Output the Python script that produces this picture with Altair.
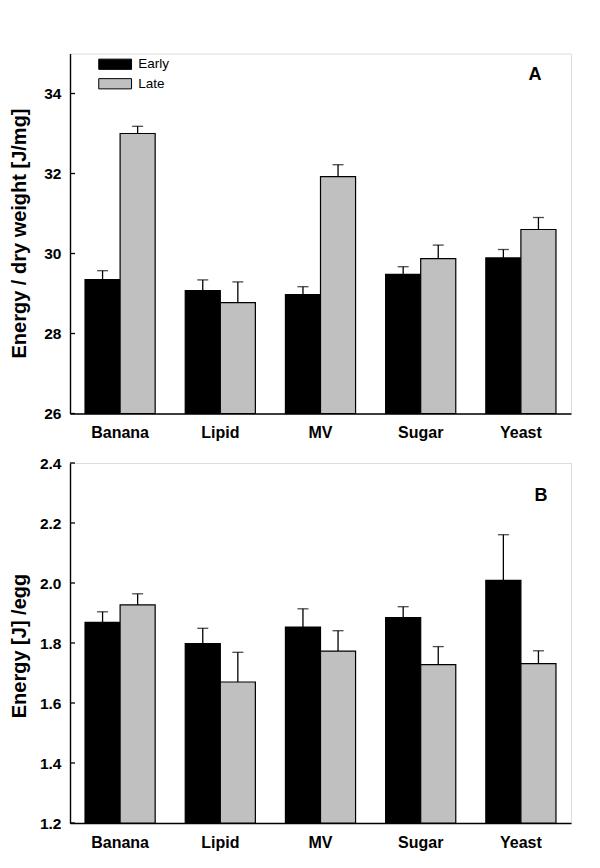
import altair as alt
import pandas as pd

categories = ["Banana", "Lipid", "MV", "Sugar", "Yeast"]
groups = ["Early", "Late"]

a_early = [29.35, 29.07, 28.97, 29.48, 29.89]
a_early_err = [0.22, 0.27, 0.20, 0.19, 0.21]
a_late = [33.00, 28.77, 31.92, 29.87, 30.60]
a_late_err = [0.18, 0.52, 0.30, 0.34, 0.30]

b_early = [1.869, 1.798, 1.853, 1.885, 2.009]
b_early_err = [0.035, 0.051, 0.061, 0.036, 0.152]
b_late = [1.927, 1.670, 1.773, 1.728, 1.731]
b_late_err = [0.037, 0.099, 0.068, 0.060, 0.043]

a_ticks = [26, 28, 30, 32, 34]
b_ticks = [1.2, 1.4, 1.6, 1.8, 2.0, 2.2, 2.4]

FONT = "Liberation Sans"
W, H = 501, 360


def frame(early, eerr, late, lerr):
    rows = []
    for i, c in enumerate(categories):
        rows.append({"cat": c, "grp": "Early", "val": early[i], "hi": early[i] + eerr[i]})
        rows.append({"cat": c, "grp": "Late", "val": late[i], "hi": late[i] + lerr[i]})
    return pd.DataFrame(rows)


def panel(df, domain, ticks, fmt, ytitle, ty, letter, lx, ly, show_legend):
    yscale = alt.Scale(domain=domain, zero=False, nice=False)
    xenc = alt.X("cat:N", sort=categories, title=None,
                 scale=alt.Scale(paddingInner=0.3, paddingOuter=0.15),
                 axis=alt.Axis(labelAngle=0, labelFont=FONT, labelFontSize=16,
                               labelFontWeight="bold", labelColor="black",
                               labelPadding=11, ticks=False, domainColor="black",
                               domainWidth=1.4))
    xoff = alt.XOffset("grp:N", sort=groups,
                       scale=alt.Scale(paddingInner=0, paddingOuter=0))
    if show_legend:
        leg = alt.Legend(title=None, orient="none", legendX=38.4, legendY=4,
                         symbolType="M-3.2,-1H3.2V1H-3.2Z", symbolSize=105,
                         symbolStrokeColor="black", symbolStrokeWidth=1,
                         labelFont=FONT, labelFontSize=13.5, labelColor="black",
                         labelOffset=16.3, rowPadding=4.5, padding=0)
    else:
        leg = None
    base = alt.Chart(df)
    bars = base.mark_bar(stroke="black", strokeWidth=1.2).encode(
        x=xenc, xOffset=xoff,
        y=alt.Y("val:Q", scale=yscale, title=None,
                axis=alt.Axis(values=ticks, format=fmt, ticks=False, grid=False,
                              labelFont=FONT, labelFontSize=15.5, labelFontWeight="bold",
                              labelColor="black", labelPadding=9,
                              domainColor="black", domainWidth=1.4)),
        y2=alt.datum(domain[0]),
        color=alt.Color("grp:N", sort=groups,
                        scale=alt.Scale(domain=groups, range=["black", "#c0c0c0"]),
                        legend=leg),
    )
    err = base.mark_rule(color="black", strokeWidth=1.3).encode(
        x=alt.X("cat:N", sort=categories), xOffset=xoff,
        y=alt.Y("val:Q"), y2="hi:Q")
    cap = base.mark_tick(color="black", thickness=1.3, size=11).encode(
        x=alt.X("cat:N", sort=categories), xOffset=xoff,
        y=alt.Y("hi:Q"))
    tk = alt.Chart(pd.DataFrame({"v": ticks})).mark_rule(color="black", strokeWidth=1.3).encode(
        y=alt.Y("v:Q"), x=alt.value(0), x2=alt.value(5))
    lab = alt.Chart(pd.DataFrame({"t": [letter]})).mark_text(
        font=FONT, fontSize=18, fontWeight="bold", color="black").encode(
        text="t:N", x=alt.value(lx), y=alt.value(ly))
    ttl = alt.Chart(pd.DataFrame({"t": [ytitle]})).mark_text(
        font=FONT, fontSize=20, fontWeight="bold", color="black", angle=270,
        baseline="middle", align="center").encode(
        text="t:N", x=alt.value(-50), y=alt.value(ty))
    return alt.layer(bars, err, cap, tk, lab, ttl).properties(width=W, height=H)


pa = panel(frame(a_early, a_early_err, a_late, a_late_err), [26, 35], a_ticks, "d",
           "Energy / dry weight [J/mg]", 180, "A", 465, 21.5, True)
pb = panel(frame(b_early, b_early_err, b_late, b_late_err), [1.2, 2.4], b_ticks, ".1f",
           "Energy [J] /egg", 183, "B", 471, 33, False)

chart = alt.vconcat(pa, pb, spacing=13.5).resolve_scale(color="independent").resolve_legend(
    color="independent").properties(
    padding={"top": 44.5, "left": 1, "right": 5, "bottom": 5}
).configure_view(stroke=None).configure(background="white")

chart.save("out.html", embed_options={"renderer": "svg", "actions": False})
